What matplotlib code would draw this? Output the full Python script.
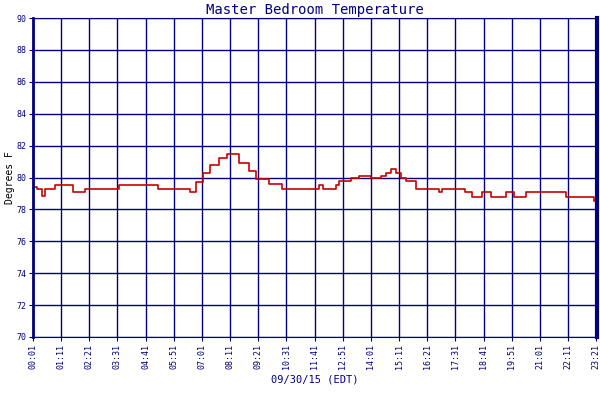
import matplotlib
matplotlib.use("Agg")
import matplotlib.pyplot as plt

minutes = [0,10,20,22,30,47,55,92,100,117,130,208,215,278,290,307,310,385,390,405,422,440,463,483,500,513,538,555,570,587,620,703,711,720,745,753,760,790,810,840,865,878,890,902,915,927,952,1004,1009,1016,1066,1073,1091,1115,1138,1175,1195,1225,1325,1395,1400]
temps   = [79.4,79.3,79.3,78.85,79.25,79.25,79.56,79.56,79.1,79.1,79.3,79.3,79.56,79.56,79.56,79.56,79.25,79.25,79.1,79.7,80.3,80.8,81.25,81.45,81.45,80.9,80.4,79.9,79.9,79.6,79.3,79.3,79.5,79.3,79.3,79.55,79.77,79.94,80.1,79.94,80.1,80.3,80.56,80.3,80.0,79.77,79.3,79.3,79.1,79.25,79.25,79.1,78.8,79.1,78.8,79.1,78.8,79.1,78.8,78.55,78.55]
tick_labels = ["00:01","01:11","02:21","03:31","04:41","05:51","07:01","08:11","09:21","10:31","11:41","12:51","14:01","15:11","16:21","17:31","18:41","19:51","21:01","22:11","23:21"]
y_ticks = [70,72,74,76,78,80,82,84,86,88,90]

navy = "#000080"
mono = "DejaVu Sans Mono"
fig = plt.figure(figsize=(6,4), dpi=100)
ax = fig.add_axes([0.055, 0.1575, 0.94, 0.7975])
ax.step(minutes, temps, where="post", color="#cc0000", lw=1.2, label="MB Temp")
ax.set_xlim(0, 1402)
ax.set_ylim(70, 90)
ax.set_xticks([i*70 for i in range(len(tick_labels))])
ax.set_xticklabels(tick_labels, rotation=90, fontsize=6, family=mono, color=navy)
ax.set_yticks(y_ticks)
ax.set_yticklabels([str(v) for v in y_ticks], fontsize=6, family=mono, color=navy)
ax.grid(True, color=navy, lw=1)
ax.tick_params(length=3, color=navy, pad=2)
for s in ax.spines.values():
    s.set_color(navy)
ax.spines["right"].set_linewidth(3)
ax.spines["left"].set_linewidth(2)
ax.set_title("Master Bedroom Temperature", family=mono, color=navy, fontsize=10, pad=3)
ax.set_ylabel("Degrees F", family=mono, color="black", fontsize=7, labelpad=1)
ax.set_xlabel("09/30/15 (EDT)", family=mono, color=navy, fontsize=7.5, labelpad=4)
leg = ax.legend(loc="upper center", bbox_to_anchor=(0.5, -0.235), frameon=False,
                prop={"family": mono, "size": 5.5}, handlelength=1.5, borderpad=0.1)
for t in leg.get_texts():
    t.set_color(navy)
fig.savefig("out.png", dpi=100)
